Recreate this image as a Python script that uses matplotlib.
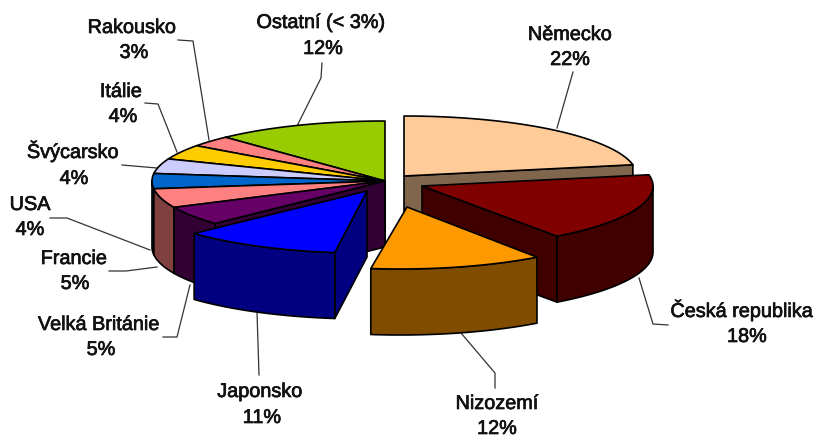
#!/usr/bin/env python3
"""Exploded 3D pie of shares by country, drawn as plain polygons."""
import matplotlib
matplotlib.use("Agg")
import matplotlib.pyplot as plt
import matplotlib.patheffects as pe
from matplotlib.patches import Polygon
import numpy as np

plt.rcParams["font.family"] = ["Liberation Sans", "DejaVu Sans"]

# data, clockwise from 12 o'clock
countries = ["Německo", "Česká republika", "Nizozemí", "Japonsko", "Velká Británie",
             "Francie", "USA", "Švýcarsko", "Itálie", "Rakousko", "Ostatní (< 3%)"]
shares = [22, 18, 12, 11, 5, 5, 4, 4, 4, 3, 12]

# styling / layout
colors = ["#ffcc99", "#800000", "#ff9900", "#0000ff", "#660066",
          "#ff8080", "#0066cc", "#ccccff", "#ffcc00", "#ff8080", "#99cc00"]
# pixel position of each slice's tip (exploded slices have their own)
tips = [(404, 176), (422, 186), (407, 207), (367, 191), (385, 181), (385, 181),
        (385, 181), (385, 181), (385, 181), (385, 181), (385, 181)]
# the rim sits a little left of the tip on the front slices (perspective)
rim_dx = [0, -2, -7, -3, 0, 0, 0, 0, 0, 0, 0]
# text baselines in pixels: country name, then its percentage
name_pos = [(570, 40), (742, 317), (497, 409), (260, 397), (99, 330),
            (74, 264), (30, 210), (73, 158), (121, 97), (132, 33), (321, 28)]
value_pos = [(570, 65), (747, 342), (497, 434), (262, 423), (101, 355),
             (75, 289), (30, 235), (74, 184), (123, 122), (134, 58), (323, 54)]
leaders = [
    [(573, 72), (557, 128)],
    [(639, 278), (653, 324), (668, 325)],
    [(461, 333), (495, 373), (495, 388)],
    [(257, 312), (259, 375)],
    [(190, 285), (177, 337), (163, 337)],
    [(157, 267), (126, 271), (109, 271)],
    [(50, 218), (67, 218), (150, 250)],
    [(122, 165), (157, 168)],
    [(145, 103), (158, 104), (177, 152)],
    [(178, 40), (193, 41), (209, 140)],
    [(322, 63), (321, 78), (297, 126)],
]
draw_order = [10, 9, 8, 7, 6, 5, 4, 0, 1, 3, 2]  # back to front
RX, RY_BACK, RY_FRONT = 233, 60, 62
DEPTH = 66


def rim(tip, t, dx=0):
    ry = np.where(np.cos(t) > 0, RY_BACK, RY_FRONT)
    return np.column_stack([tip[0] + dx + RX * np.sin(t), tip[1] - ry * np.cos(t)])


def darker(hex_color):
    return tuple(c * 0.5 for c in matplotlib.colors.to_rgb(hex_color))


def main():
    fig = plt.figure(figsize=(8.17, 4.37), dpi=100)
    ax = fig.add_axes([0, 0, 1, 1])
    ax.set_xlim(0, 817)
    ax.set_ylim(437, 0)
    ax.axis("off")

    edges = np.radians(np.cumsum([0] + shares) * 3.6)
    z = 3
    style = dict(edgecolor="black", lw=1.2, joinstyle="round")
    for i in draw_order:
        tip, t0, t1, dx = tips[i], edges[i], edges[i + 1], rim_dx[i]
        wall = darker(colors[i])
        # cut faces that look towards the viewer
        for t, visible in ((t0, np.sin(t0) < -1e-6), (t1, np.sin(t1) > 1e-6)):
            if visible:
                p = rim(tip, np.array([t]), dx)[0]
                quad = [tip, p, (p[0], p[1] + DEPTH), (tip[0], tip[1] + DEPTH)]
                ax.add_patch(Polygon(quad, facecolor=wall, zorder=z, **style))
                z += 1
        # outer wall, front half only
        a, b = max(t0, np.pi / 2), min(t1, 3 * np.pi / 2)
        if b > a:
            arc = rim(tip, np.linspace(a, b, 40), dx)
            low = arc[::-1] + [0, DEPTH]
            ax.add_patch(Polygon(np.vstack([arc, low]), facecolor=wall, zorder=z, **style))
            z += 1
        # top face
        arc = rim(tip, np.linspace(t0, t1, 60), dx)
        ax.add_patch(Polygon(np.vstack([[tip], arc]), facecolor=colors[i], zorder=z, **style))
        z += 1

    for line in leaders:
        xs, ys = zip(*line)
        ax.plot(xs, ys, color="#333333", lw=0.9, zorder=2)

    stroke = [pe.withStroke(linewidth=0.5, foreground="#111111")]
    for name, val, np_, vp in zip(countries, shares, name_pos, value_pos):
        for s, (x, y) in ((name, np_), (f"{val}%", vp)):
            ax.text(x, y, s, ha="center", va="baseline", fontsize=14.3,
                    color="#111111", zorder=50, path_effects=stroke)

    fig.savefig("out.png", dpi=100)


if __name__ == "__main__":
    main()
